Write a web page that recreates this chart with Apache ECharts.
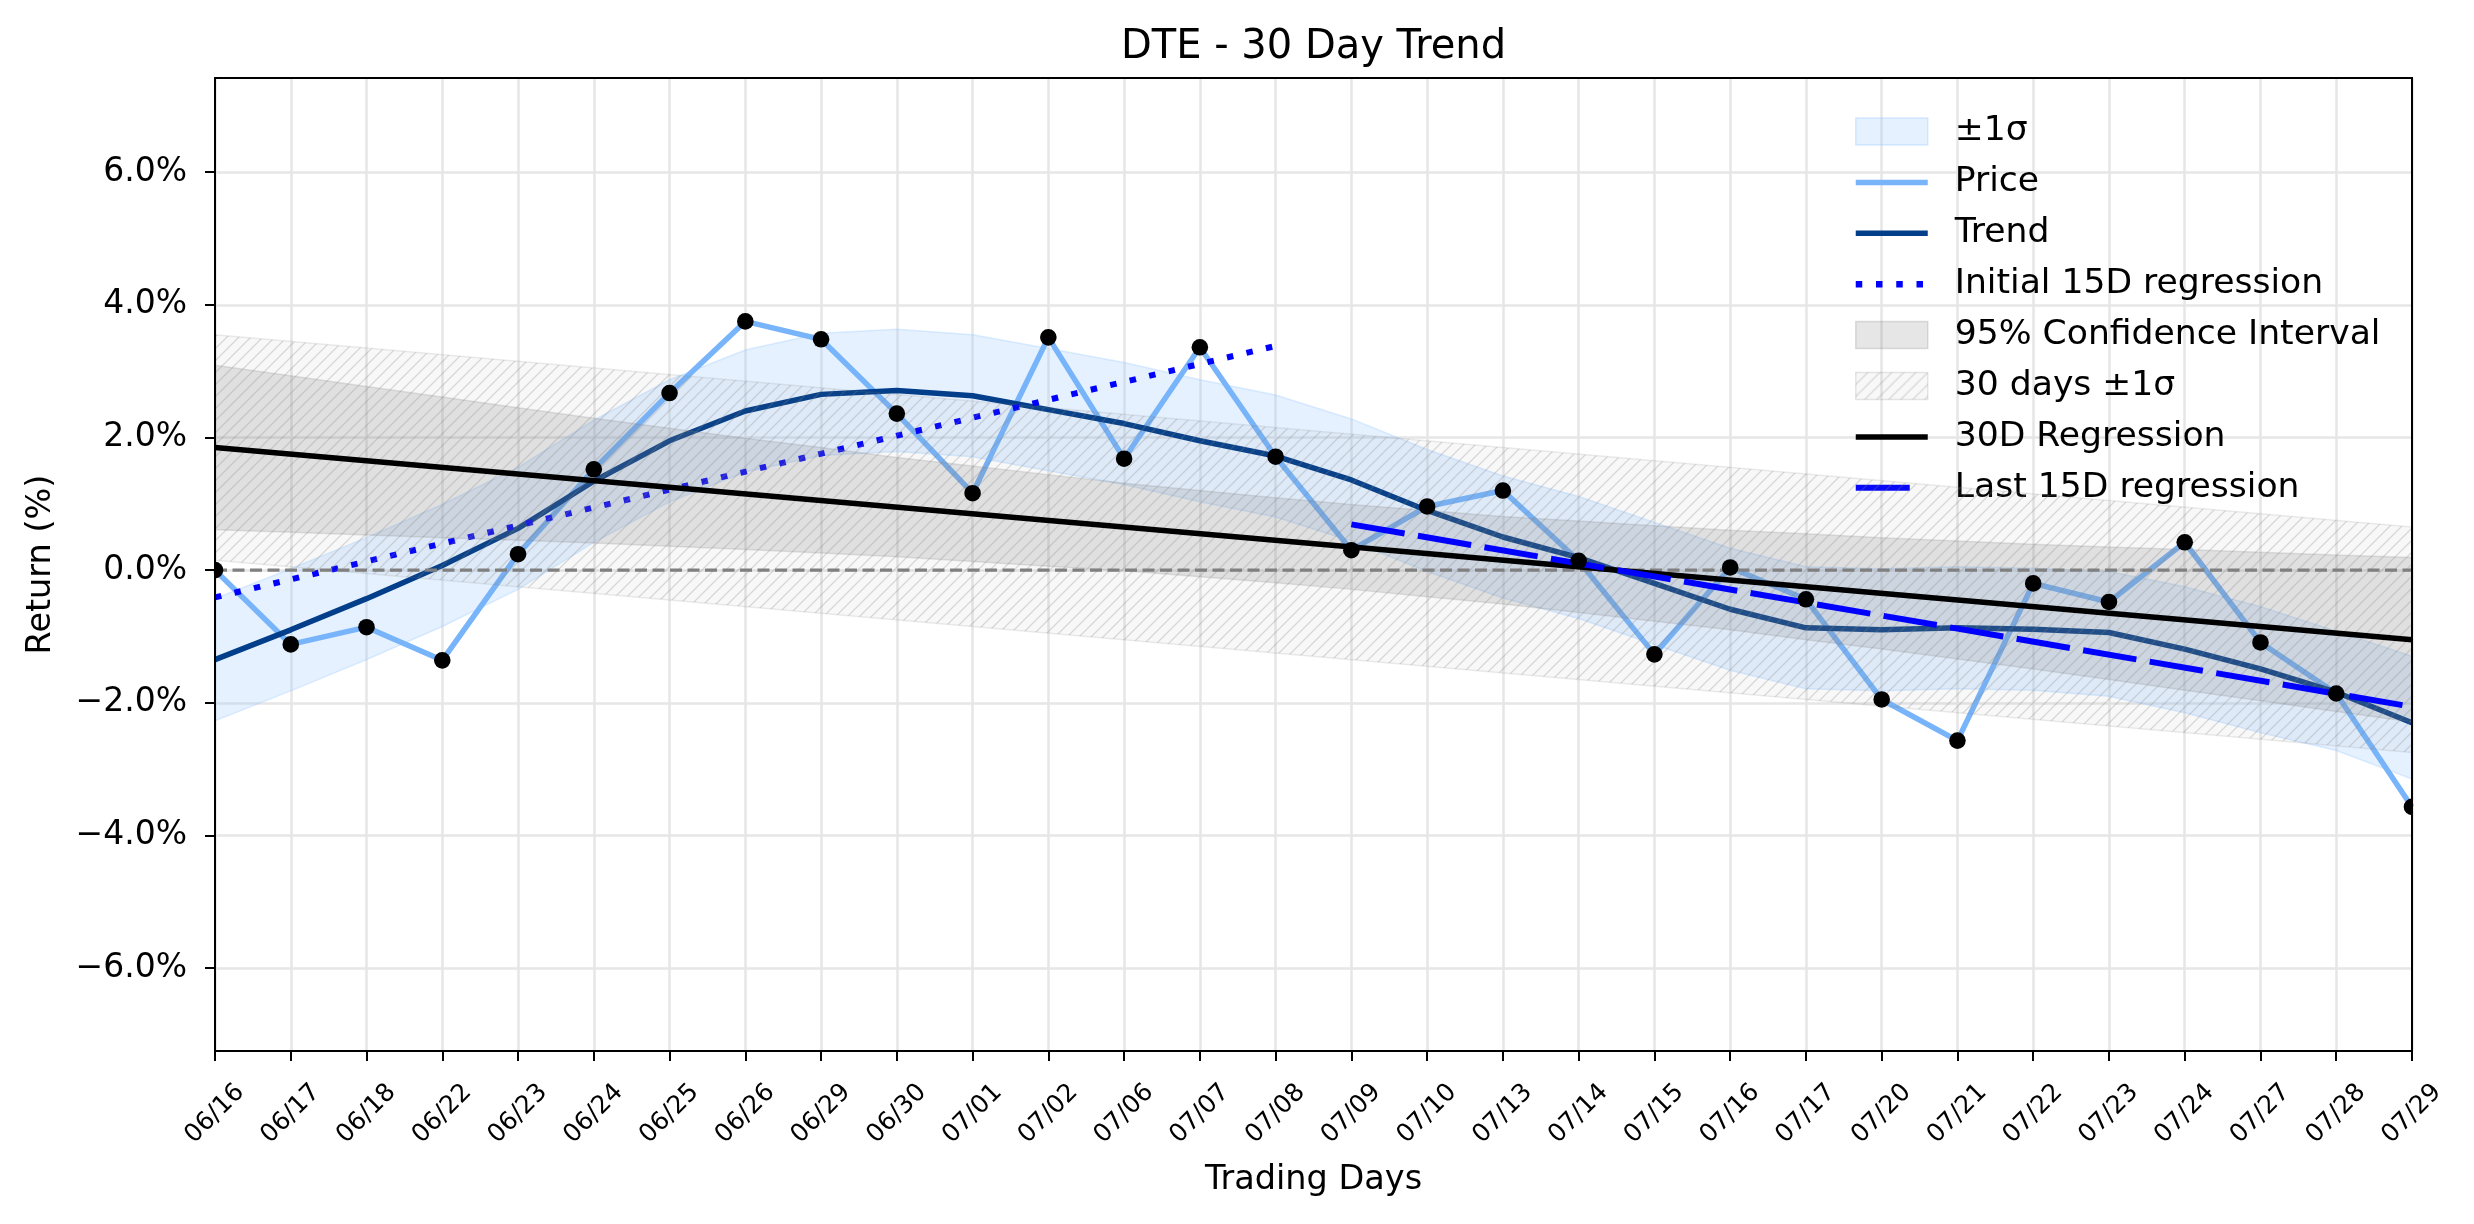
<!DOCTYPE html>
<html><head><meta charset="utf-8">
<script src="https://cdn.jsdelivr.net/npm/echarts@6/dist/echarts.min.js"></script>
<style>html,body{margin:0;padding:0;background:#fff}#c{width:2474px;height:1224px}</style>
</head><body><div id="c"></div>
<script>
const categories = ['06/16','06/17','06/18','06/22','06/23','06/24','06/25','06/26','06/29','06/30',
  '07/01','07/02','07/06','07/07','07/08','07/09','07/10','07/13','07/14','07/15',
  '07/16','07/17','07/20','07/21','07/22','07/23','07/24','07/27','07/28','07/29'];
const priceReturns = [0.00,-1.12,-0.86,-1.36,0.24,1.52,2.67,3.75,3.48,2.36,
  1.16,3.51,1.68,3.36,1.71,0.30,0.96,1.20,0.14,-1.27,
  0.04,-0.44,-1.95,-2.57,-0.20,-0.48,0.42,-1.09,-1.86,-3.57];
const trendValues = [-1.35,-0.90,-0.43,0.07,0.63,1.34,1.95,2.40,2.65,2.71,
  2.63,2.42,2.21,1.95,1.72,1.36,0.90,0.50,0.19,-0.20,
  -0.59,-0.87,-0.90,-0.87,-0.89,-0.94,-1.19,-1.49,-1.84,-2.30];
const sigmaUpper = [-0.43,0.02,0.49,0.99,1.55,2.26,2.87,3.32,3.57,3.63,
  3.55,3.34,3.13,2.87,2.64,2.28,1.82,1.42,1.11,0.72,
  0.33,0.05,0.02,0.05,0.03,-0.02,-0.25,-0.55,-0.92,-1.30];
const sigmaLower = [-2.27,-1.82,-1.35,-0.85,-0.29,0.42,1.03,1.48,1.73,1.79,
  1.71,1.50,1.29,1.03,0.80,0.44,-0.02,-0.42,-0.73,-1.12,
  -1.51,-1.79,-1.82,-1.79,-1.81,-1.90,-2.15,-2.45,-2.72,-3.15];
const ciUpper = [3.09,2.93,2.77,2.61,2.45,2.29,2.14,1.99,1.85,1.70,
  1.57,1.44,1.31,1.20,1.09,0.99,0.90,0.81,0.74,0.67,
  0.60,0.55,0.49,0.44,0.39,0.35,0.31,0.27,0.23,0.19];
const ciLower = [0.61,0.57,0.53,0.49,0.45,0.41,0.36,0.31,0.26,0.20,
  0.13,0.06,-0.01,-0.10,-0.19,-0.29,-0.40,-0.51,-0.64,-0.77,
  -0.90,-1.05,-1.19,-1.34,-1.49,-1.65,-1.81,-1.97,-2.13,-2.29];
const band30Days = ['06/16','07/29'];
const band30Upper = [3.55, 0.65];
const band30Lower = [0.15, -2.75];
const reg30Days = ['06/16','07/29'];
const reg30Values = [1.85, -1.05];
const initRegDays = ['06/16','07/08'];
const initRegValues = [-0.41, 3.38];
const lastRegDays = ['07/09','07/29'];
const lastRegValues = [0.69, -2.06];
const zeroDays = ['06/16','07/29'];
const zeroValues = [0, 0];
const yTicks = [-6,-4,-2,0,2,4,6];

const FONT = 'DejaVu Sans';
const PRICE_COLOR = '#78b4fa';
const TREND_COLOR = '#023e8a';
const BAND_FILL = 'rgba(150,200,255,0.25)';
const CI_FILL = 'rgba(128,128,128,0.2)';

// hatch pattern
const pc = document.createElement('canvas');
pc.width = 12; pc.height = 12;
const g = pc.getContext('2d');
g.fillStyle = 'rgba(128,128,128,0.06)'; g.fillRect(0,0,12,12);
g.strokeStyle = 'rgba(128,128,128,0.28)'; g.lineWidth = 1.3;
g.beginPath();
g.moveTo(0,12); g.lineTo(12,0);
g.moveTo(-6,6); g.lineTo(6,-6);
g.moveTo(6,18); g.lineTo(18,6);
g.stroke();
const HATCH = {image: pc, repeat: 'repeat'};

function pairs(xs, ys){ return xs.map((x,i)=>[x, ys[i]]); }

function bandSeries(name, xs, lows, ups, style, z){
  const idx = xs.map(x => categories.indexOf(x));
  return {
    type:'custom', name: name, z: z, silent: true, clip: true,
    coordinateSystem:'cartesian2d',
    data: idx.map((x,i)=>[x, lows[i], ups[i]]),
    encode: {x:0, y:[1,2]},
    itemStyle: {color: style.fill},
    renderItem: function(params, api){
      if (params.dataIndex !== 0) return null;
      const top = [], bot = [];
      for (let i=0;i<idx.length;i++){
        top.push(api.coord([idx[i], ups[i]]));
        bot.push(api.coord([idx[i], lows[i]]));
      }
      return {type:'polygon', shape:{points: top.concat(bot.reverse())}, style: style};
    }
  };
}

const LINE_ICON = 'path://M0,0H72V5.5H0Z';
const DOT_ICON = 'path://M0,0h6.5v6.5h-6.5z M20.25,0h6.5v6.5h-6.5z M40.5,0h6.5v6.5h-6.5z M60.75,0h6.5v6.5h-6.5z M72,0L72,6.5';
const DASH_ICON = 'path://M0,0h54v6h-54z M72,0L72,6';

const chart = echarts.init(document.getElementById('c'), null, {renderer:'canvas'});
chart.setOption({
  animation: false,
  backgroundColor: '#fff',
  textStyle: {fontFamily: FONT},
  title: {
    text: 'DTE - 30 Day Trend', left: 1313.5, top: 28, textAlign: 'center', padding: 0,
    textStyle: {fontSize: 40, fontWeight: 'normal', color: '#000', fontFamily: FONT}
  },
  grid: {left: 215, right: 62, top: 78, bottom: 173, show: true, borderColor: '#000', borderWidth: 2,
         backgroundColor: 'transparent', z: 20, outerBoundsMode: 'none', containLabel: false},
  legend: {
    orient: 'vertical', left: 1855, top: 114, padding: 0, itemGap: 15.9,
    itemWidth: 72, itemHeight: 27, symbolKeepAspect: true, selectedMode: false,
    textStyle: {fontSize: 34.6, color: '#000', fontFamily: FONT, padding: [0,0,0,22]},
    data: [
      {name:'±1σ', icon:'rect', itemStyle:{color: BAND_FILL, borderColor:'rgba(150,200,255,0.35)', borderWidth:1.5}},
      {name:'Price', icon: LINE_ICON, itemStyle:{color: PRICE_COLOR, borderWidth:0}},
      {name:'Trend', icon: LINE_ICON, itemStyle:{color: TREND_COLOR, borderWidth:0}},
      {name:'Initial 15D regression', icon: DOT_ICON, itemStyle:{color:'#0000ff', borderWidth:0}},
      {name:'95% Confidence Interval', icon:'rect', itemStyle:{color: CI_FILL, borderColor:'rgba(128,128,128,0.25)', borderWidth:1.5}},
      {name:'30 days ±1σ', icon:'rect', itemStyle:{color: HATCH, borderColor:'rgba(128,128,128,0.2)', borderWidth:1.5}},
      {name:'30D Regression', icon: LINE_ICON, itemStyle:{color:'#000', borderWidth:0}},
      {name:'Last 15D regression', icon: DASH_ICON, itemStyle:{color:'#0000ff', borderWidth:0}}
    ]
  },
  xAxis: {
    type:'category', data: categories, boundaryGap: false,
    axisLine: {onZero: false, lineStyle: {color:'#000', width:2}},
    axisTick: {length: 10, lineStyle: {color:'#000', width:2}, interval: 0},
    axisLabel: {rotate: 45, align:'center', verticalAlign:'middle', margin: 63, fontSize: 25,
                color:'#000', fontFamily: FONT, interval: 0},
    splitLine: {show: true, interval: 0, lineStyle: {color:'#e6e6e6', width: 2.5}},
    name: 'Trading Days', nameLocation: 'middle', nameGap: 112,
    nameTextStyle: {fontSize: 33.5, color:'#000', fontFamily: FONT}
  },
  yAxis: {
    type:'value', min: -7.25, max: 7.42, splitNumber: 7,
    axisLine: {show: true, onZero: false, lineStyle: {color:'#000', width:2}},
    axisTick: {show: true, length: 10, lineStyle: {color:'#000', width:2}, customValues: yTicks},
    axisLabel: {customValues: yTicks,
                formatter: v => (v < 0 ? '\u2212' : '') + Math.abs(v).toFixed(1) + '%',
                fontSize: 33, color:'#000', margin: 28, fontFamily: FONT},
    splitLine: {show: true, lineStyle: {color:'#e6e6e6', width: 2.5}},
    name: 'Return (%)', nameLocation: 'middle', nameGap: 157,
    nameTextStyle: {fontSize: 33.5, color:'#000', fontFamily: FONT}
  },
  series: [
    bandSeries('±1σ', categories, sigmaLower, sigmaUpper,
      {fill: BAND_FILL, stroke:'rgba(150,200,255,0.3)', lineWidth: 1.5}, 1),
    {type:'line', name:'Price', data: priceReturns, z: 2, symbol:'none', silent: true,
     lineStyle: {color: PRICE_COLOR, width: 5.5}, itemStyle: {color: PRICE_COLOR}},
    {type:'line', name:'Trend', data: trendValues, z: 3, symbol:'none', silent: true,
     lineStyle: {color: TREND_COLOR, width: 5.5}, itemStyle: {color: TREND_COLOR}},
    {type:'line', name:'Initial 15D regression', data: pairs(initRegDays, initRegValues), z: 4, symbol:'none', silent: true,
     lineStyle: {color:'#0000ff', width: 6, type: [6.5, 13.5], cap: 'butt'}, itemStyle: {color:'#0000ff'}},
    bandSeries('95% Confidence Interval', categories, ciLower, ciUpper,
      {fill: CI_FILL, stroke:'rgba(128,128,128,0.2)', lineWidth: 1.5}, 5),
    bandSeries('30 days ±1σ', band30Days, band30Lower, band30Upper,
      {fill: HATCH, stroke:'rgba(128,128,128,0.15)', lineWidth: 1.5}, 6),
    {type:'line', name:'zero', data: pairs(zeroDays, zeroValues), z: 7, symbol:'none', silent: true,
     lineStyle: {color:'#808080', width: 3.2, type: [12, 5.5]}},
    {type:'line', name:'30D Regression', data: pairs(reg30Days, reg30Values), z: 8, symbol:'none', silent: true,
     lineStyle: {color:'#000', width: 5.5}, itemStyle: {color:'#000'}},
    {type:'line', name:'Last 15D regression', data: pairs(lastRegDays, lastRegValues), z: 9, symbol:'none', silent: true,
     lineStyle: {color:'#0000ff', width: 6, type: [54, 13.5]}, itemStyle: {color:'#0000ff'}},
    {type:'custom', name:'markers', z: 10, silent: true, clip: true, coordinateSystem:'cartesian2d',
     data: priceReturns.map((v,i)=>[i, v]), encode: {x:0, y:1},
     renderItem: function(params, api){
       const p = api.coord([api.value(0), api.value(1)]);
       return {type:'circle', shape:{cx: p[0], cy: p[1], r: 8.3}, style:{fill:'#000'}};
     }}
  ]
});
</script></body></html>
